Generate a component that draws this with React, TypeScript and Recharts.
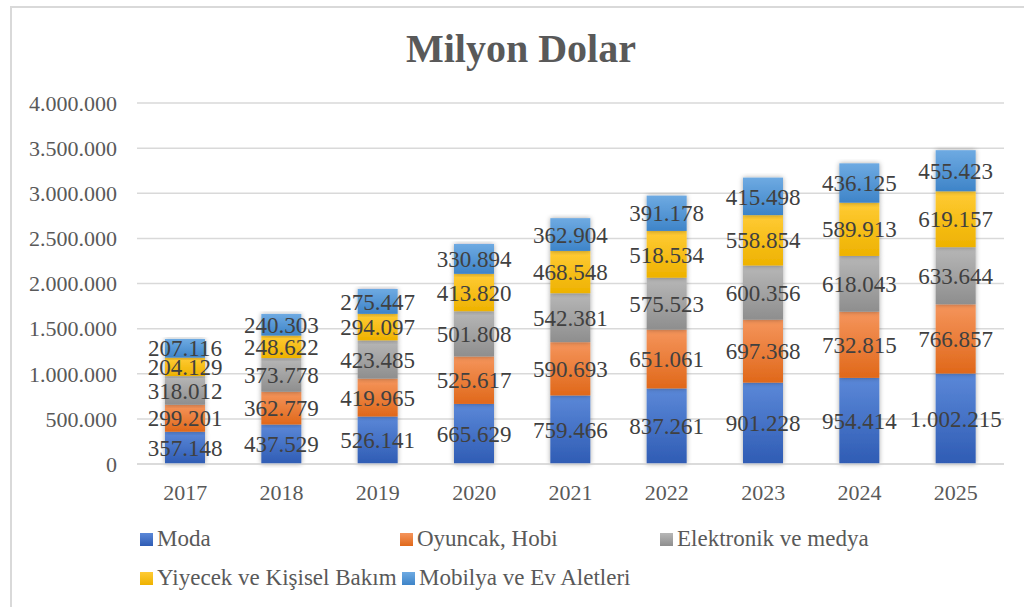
import React from "react";
import { Bar, BarChart, CartesianGrid, LabelList, XAxis, YAxis } from "recharts";

// Stacked yearly sales by category (million dollars).
const years = ["2017", "2018", "2019", "2020", "2021", "2022", "2023", "2024", "2025"];
const moda = [357148, 437529, 526141, 665629, 759466, 837261, 901228, 954414, 1002215];
const oyuncak = [299201, 362779, 419965, 525617, 590693, 651061, 697368, 732815, 766857];
const elektronik = [318012, 373778, 423485, 501808, 542381, 575523, 600356, 618043, 633644];
const yiyecek = [204129, 248622, 294097, 413820, 468548, 518534, 558854, 589913, 619157];
const mobilya = [207116, 240303, 275447, 330894, 362904, 391178, 415498, 436125, 455423];
const yTicks = [0, 500000, 1000000, 1500000, 2000000, 2500000, 3000000, 3500000, 4000000];

const seriesNames = ["Moda", "Oyuncak, Hobi", "Elektronik ve medya", "Yiyecek ve Kişisel Bakım", "Mobilya ve Ev Aletleri"];
const seriesKeys = ["moda", "oyuncak", "elektronik", "yiyecek", "mobilya"];
// top / bottom of each segment's vertical gradient
const gradients = [
  ["#5b88d8", "#2f5cb4"],
  ["#f5955c", "#e0681a"],
  ["#b7b7b7", "#8e8e8e"],
  ["#ffcb35", "#eeb200"],
  ["#6eaae2", "#3e84c8"],
];

const data = years.map((year, i) => ({
  year,
  moda: moda[i],
  oyuncak: oyuncak[i],
  elektronik: elektronik[i],
  yiyecek: yiyecek[i],
  mobilya: mobilya[i],
}));

const fmt = (v: number) => String(v).replace(/\B(?=(\d{3})+(?!\d))/g, ".");

const FONT = '"Liberation Serif", "Times New Roman", serif';

// legend slots: [left, top] of the marker, Excel-style grid
const legendPos = [
  [140, 533],
  [400, 533],
  [660, 533],
  [140, 572],
  [402, 572],
];

export default function App() {
  return (
    <div style={{ position: "absolute", left: 0, top: 0, width: 1024, height: 607, background: "#fff", fontFamily: FONT, overflow: "hidden" }}>
      <div style={{ position: "absolute", left: 10, top: 6, width: 1040, height: 640, border: "2px solid #d9d9d9", boxSizing: "border-box" }} />
      <div style={{ position: "absolute", left: 0, top: 25, width: 1042, textAlign: "center", fontSize: 40, fontWeight: "bold", color: "#595959", lineHeight: "normal" }}>
        Milyon Dolar
      </div>

      <BarChart
        width={1024}
        height={607}
        data={data}
        margin={{ top: 103, right: 20, bottom: 103, left: 0 }}
        style={{ position: "absolute", left: 0, top: 0 }}
      >
        <defs>
          {gradients.map(([top, bottom], i) => (
            <linearGradient key={i} id={`g${i}`} x1="0" y1="0" x2="0" y2="1">
              <stop offset="0%" stopColor={top} />
              <stop offset="100%" stopColor={bottom} />
            </linearGradient>
          ))}
          <filter id="sh" x="-40%" y="-10%" width="180%" height="120%">
            <feDropShadow dx="0" dy="0" stdDeviation="2.5" floodColor="#000" floodOpacity="0.35" />
          </filter>
        </defs>
        <CartesianGrid vertical={false} stroke="#d9d9d9" strokeWidth={1.5} />
        <XAxis
          dataKey="year"
          height={40}
          axisLine={{ stroke: "#d9d9d9", strokeWidth: 1.5 }}
          tickLine={false}
          tickMargin={14}
          tick={{ fill: "#595959", fontSize: 22, fontFamily: FONT }}
        />
        <YAxis
          width={137}
          domain={[0, 4000000]}
          ticks={yTicks}
          tickFormatter={fmt}
          axisLine={false}
          tickLine={false}
          tickSize={0}
          tickMargin={20}
          tick={{ fill: "#595959", fontSize: 22, fontFamily: FONT }}
        />
        {seriesKeys.map((key, i) => (
          <Bar
            key={key}
            dataKey={key}
            name={seriesNames[i]}
            stackId="a"
            barSize={40}
            isAnimationActive={false}
            shape={(p: any) => (
              <rect x={p.x} y={p.y} width={p.width} height={p.height} fill={`url(#g${i})`} filter="url(#sh)" />
            )}
          >
            <LabelList
              dataKey={key}
              position="center"
              formatter={(v: any) => fmt(Number(v))}
              fill="#404040"
              fontSize={23}
              fontFamily={FONT}
            />
          </Bar>
        ))}
      </BarChart>

      {seriesNames.map((name, i) => (
        <div
          key={name}
          style={{ position: "absolute", left: legendPos[i][0], top: legendPos[i][1] - 7, display: "flex", alignItems: "center", fontSize: 23, color: "#595959", lineHeight: "26px", whiteSpace: "nowrap" }}
        >
          <span style={{ display: "inline-block", width: 13, height: 13, marginRight: 4, background: `linear-gradient(${gradients[i][0]}, ${gradients[i][1]})` }} />
          {name}
        </div>
      ))}
    </div>
  );
}
